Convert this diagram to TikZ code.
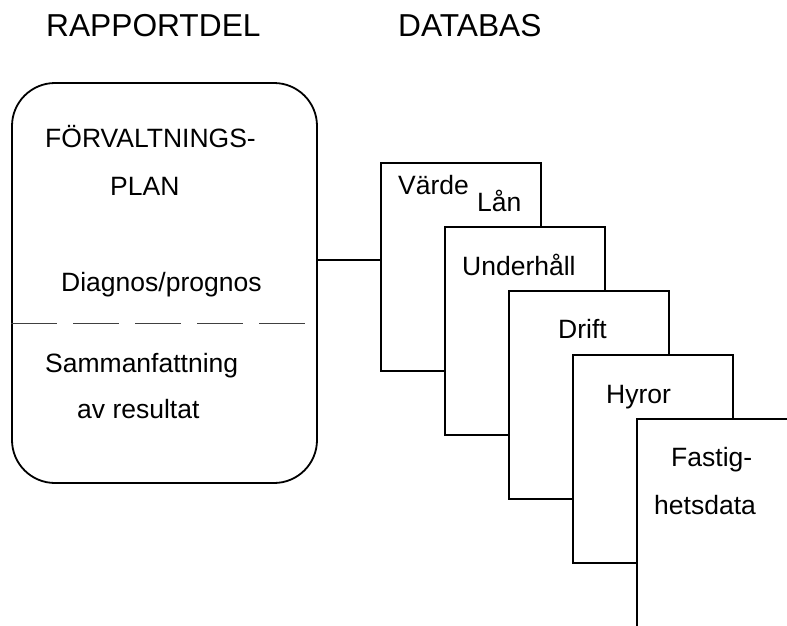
\documentclass[tikz,border=0pt]{standalone}
\usepackage{fontspec}
\setmainfont{Liberation Sans}
\usepackage{tikz}
\usetikzlibrary{calc}
\tikzset{>=latex}
\tikzset{
  card/.style={draw, line width=1.8pt, fill=white, minimum width=160pt,
               minimum height=208pt, inner sep=0pt},
  planbox/.style={draw, line width=1.8pt, rounded corners=43pt,
               minimum width=305pt, minimum height=400pt, inner sep=0pt},
  txt/.style={anchor=base west, inner sep=0pt, font=\fontsize{26.5}{30}\selectfont},
  head/.style={anchor=base west, inner sep=0pt, font=\fontsize{31.7}{36}\selectfont}
}

\begin{document}
\begin{tikzpicture}[x=1pt,y=-1pt]
  \clip (0,0) rectangle (787,625);
  % rubriker
  \node[head] (rapport) at (46,36) {RAPPORTDEL};
  \node[head] (databas) at (398,36) {DATABAS};

  % rapportdelen
  \node[planbox] (plan) at (164.5,283) {};
  \node[txt] (forv) at (45,147) {FÖRVALTNINGS-};
  \node[txt] (planord) at (110,195) {PLAN};
  \node[txt] (diagnos) at (61,291) {Diagnos/prognos};
  \draw[line width=0.9pt, black!75, dash pattern=on 46pt off 16pt]
       (plan.west |- 0,323) -- (305,323);
  \node[txt] (samman) at (45,372) {Sammanfattning};
  \node[txt] (resultat) at (77,418) {av resultat};

  % databasens kort, vart och ett ovanpå det förra
  \foreach \i in {1,...,5}
    \node[card] (card\i) at ({461+64*(\i-1)},{267+64*(\i-1)}) {};

  \node[txt] (varde) at (398,194) {Värde};
  \node[txt] (lan) at (477,211) {Lån};
  \node[txt] (underhall) at (462,275) {Underhåll};
  \node[txt] (drift) at (558,338) {Drift};
  \node[txt] (hyror) at (606,403) {Hyror};
  \node[txt] (fastig) at (671,466) {Fastig-};
  \node[txt] (hetsdata) at (654,514) {hetsdata};

  % förbindelse
  \coordinate (link) at (350,260);
  \draw[line width=1.8pt] (plan.east |- link) -- (card1.west |- link);
\end{tikzpicture}
\end{document}
